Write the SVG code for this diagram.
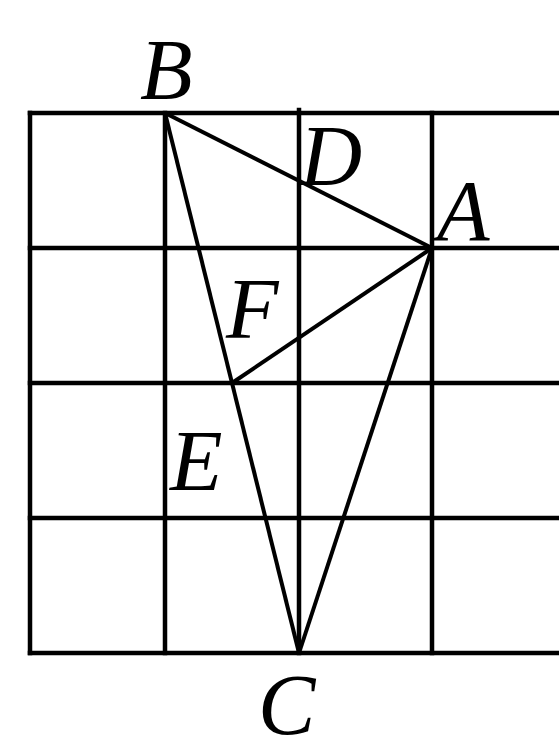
<svg xmlns="http://www.w3.org/2000/svg" width="559" height="748" viewBox="0 0 559 748">
<style>
.g{stroke:#000;stroke-width:4.5;fill:none;stroke-linecap:square}
.e{stroke:#000;stroke-width:4;fill:none;stroke-linejoin:miter}
.t{font-family:"Liberation Serif","Times New Roman",serif;font-style:italic;font-size:86px;fill:#000}
</style>
<rect width="559" height="748" fill="#fff"/>
<g id="grid">
<line class="g" x1="30" y1="113" x2="559" y2="113"/>
<line class="g" x1="30" y1="248" x2="559" y2="248"/>
<line class="g" x1="30" y1="383" x2="559" y2="383"/>
<line class="g" x1="30" y1="518" x2="559" y2="518"/>
<line class="g" x1="30" y1="653" x2="559" y2="653"/>
<line class="g" x1="30" y1="113" x2="30" y2="653"/>
<line class="g" x1="165" y1="113" x2="165" y2="653"/>
<line class="g" x1="299" y1="110" x2="299" y2="653"/>
<line class="g" x1="432" y1="113" x2="432" y2="653"/>
</g>
<g id="connectors">
<line class="e" x1="165" y1="113" x2="432" y2="248"/>
<line class="e" x1="165" y1="113" x2="299" y2="653"/>
<line class="e" x1="432" y1="248" x2="299" y2="653"/>
<line class="e" x1="432" y1="248" x2="232" y2="383"/>
</g>
<g id="B"><text class="t" x="140" y="99">B</text></g>
<g id="D"><text class="t" x="300" y="185">D</text></g>
<g id="A"><text class="t" x="437" y="240">A</text></g>
<g id="F"><text class="t" x="226" y="338">F</text></g>
<g id="E"><text class="t" x="170" y="490">E</text></g>
<g id="C"><text class="t" x="258" y="734">C</text></g>
</svg>
